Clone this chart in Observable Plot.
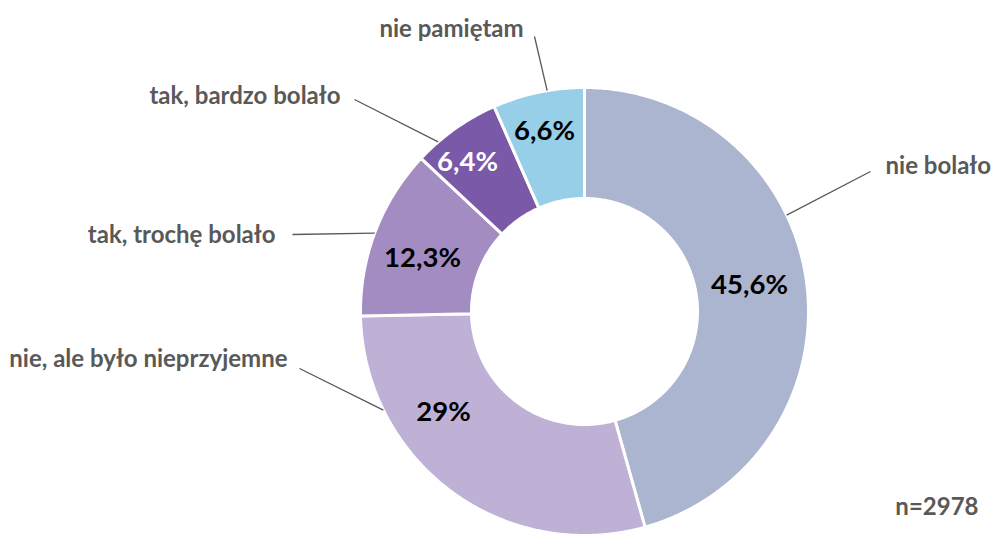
<!DOCTYPE html>
<html>
<head>
<meta charset="utf-8">
<script src="https://cdn.jsdelivr.net/npm/d3@7"></script>
<script src="https://cdn.jsdelivr.net/npm/@observablehq/plot@0.6"></script>
<style>
  html, body { margin: 0; padding: 0; background: #fff; }
  #chart { width: 992px; height: 537px; }
</style>
</head>
<body>
<div id="chart"></div>
<script>
// ---- data ----
const categories = ["nie bolało", "nie, ale było nieprzyjemne", "tak, trochę bolało", "tak, bardzo bolało", "nie pamiętam"];
const values = [45.6, 29, 12.3, 6.4, 6.6];
const valueLabels = ["45,6%", "29%", "12,3%", "6,4%", "6,6%"];
const sampleNote = "n=2978";

// ---- style / layout (not data) ----
const colors = ["#abb5cf", "#bfb0d6", "#a38cc2", "#7a5aa8", "#97cee8"];
const valueTextColors = ["#000", "#000", "#000", "#fff", "#000"];
const outerR = 224, innerR = 113;
// leader: start angle (deg, clockwise from top) on outer rim, end offset from centre
const leaderAngle = [64.5, 243.9, 290.5, 319.2, 350.4];
const leaderEnd = [[286, 140], [-285, -57], [-292, 77], [-230, 212], [-50, 275]];
const labelPos = [[301, 145], [-297, -48], [-309, 76], [-244, 215], [-133, 282]];
const labelAnchor = ["start", "end", "end", "end", "middle"];
const valuePos = [[165, 26], [-141, -101], [-162, 53], [-117, 149], [-40, 180]];

// ---- build slice polygons from the data ----
const arcs = d3.pie().sort(null).value(d => d)(values);
const poly = [];
arcs.forEach((a, i) => {
  const n = Math.max(8, Math.ceil((a.endAngle - a.startAngle) / 0.01));
  const pts = [];
  for (let k = 0; k <= n; k++) {
    const t = a.startAngle + (a.endAngle - a.startAngle) * k / n;
    pts.push([outerR * Math.sin(t), outerR * Math.cos(t)]);
  }
  for (let k = n; k >= 0; k--) {
    const t = a.startAngle + (a.endAngle - a.startAngle) * k / n;
    pts.push([innerR * Math.sin(t), innerR * Math.cos(t)]);
  }
  pts.push(pts[0]);
  pts.forEach(p => poly.push({cat: categories[i], x: p[0], y: p[1]}));
});

const leaders = categories.map((c, i) => {
  const t = leaderAngle[i] * Math.PI / 180;
  return {cat: c, x1: outerR * Math.sin(t), y1: outerR * Math.cos(t), x2: leaderEnd[i][0], y2: leaderEnd[i][1]};
});
const labels = categories.map((c, i) => ({cat: c, x: labelPos[i][0], y: labelPos[i][1], anchor: labelAnchor[i]}));
const vals = valueLabels.map((v, i) => ({text: v, x: valuePos[i][0], y: valuePos[i][1], color: valueTextColors[i]}));

const font = "Lato, 'Open Sans', sans-serif";

const plot = Plot.plot({
  width: 992,
  height: 537,
  margin: 0,
  x: {domain: [-584, 408], axis: null},
  y: {domain: [-226, 311], axis: null},
  color: {domain: categories, range: colors},
  style: {fontFamily: font, background: "#fff"},
  marks: [
    Plot.line(poly, {x: "x", y: "y", z: "cat", fill: "cat", stroke: "#fff", strokeWidth: 3, curve: "linear"}),
    Plot.link(leaders, {x1: "x1", y1: "y1", x2: "x2", y2: "y2", stroke: "#595959", strokeWidth: 1.3}),
    ...["start", "end", "middle"].map(an =>
      Plot.text(labels.filter(d => d.anchor === an), {x: "x", y: "y", text: "cat", textAnchor: an, fill: "#595959", fontSize: 24, fontWeight: "bold"})
    ),
    Plot.text(vals, {x: "x", y: "y", text: "text", fill: d => d.color, fontSize: 27.5, fontWeight: "bold"}),
    Plot.text([sampleNote], {x: 394, y: -196, text: d => d, textAnchor: "end", fill: "#595959", fontSize: 24, fontWeight: "bold"})
  ]
});
document.getElementById("chart").appendChild(plot);
</script>
</body>
</html>
